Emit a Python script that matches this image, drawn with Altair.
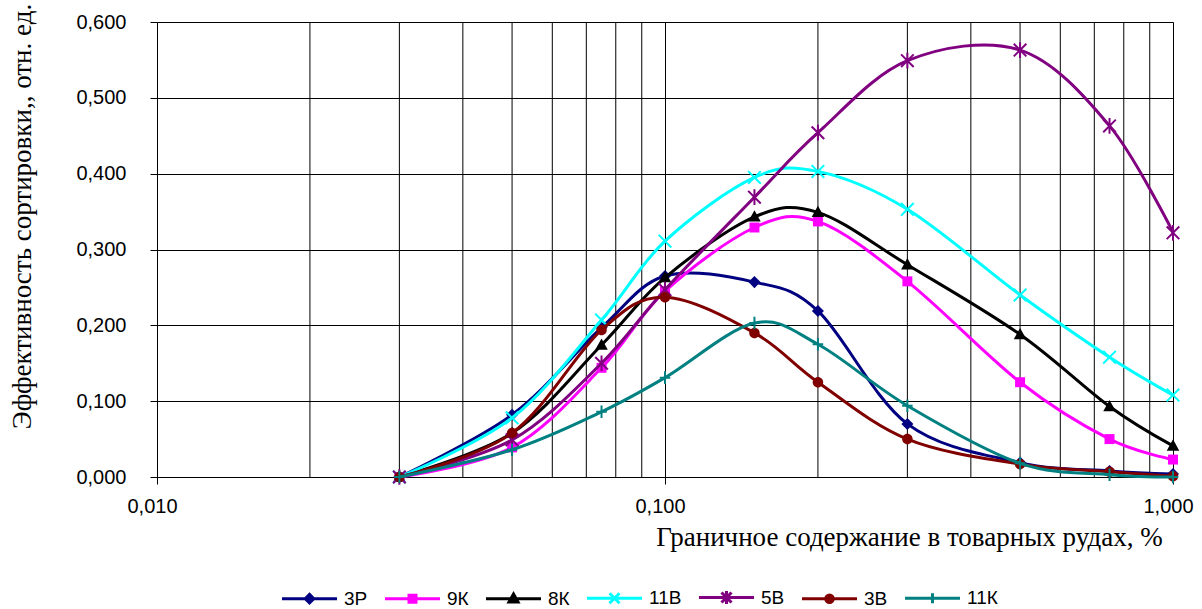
import altair as alt
import pandas as pd

# ---- data ----
x_values = [0.03, 0.05, 0.075, 0.1, 0.15, 0.2, 0.3, 0.5, 0.75, 1.0]
series_names = ["3Р", "9К", "8К", "11В", "5В", "3В", "11К"]
s_3R = [0.0, 0.082, 0.197, 0.265, 0.257, 0.219, 0.070, 0.019, 0.008, 0.004]
s_9K = [0.0, 0.039, 0.144, 0.245, 0.329, 0.337, 0.258, 0.125, 0.050, 0.023]
s_8K = [0.0, 0.058, 0.174, 0.263, 0.343, 0.349, 0.280, 0.188, 0.093, 0.041]
s_11V = [0.0, 0.078, 0.207, 0.311, 0.395, 0.403, 0.353, 0.240, 0.158, 0.108]
s_5V = [0.0, 0.049, 0.150, 0.247, 0.369, 0.454, 0.549, 0.563, 0.463, 0.322]
s_3V = [0.0, 0.058, 0.194, 0.237, 0.190, 0.125, 0.050, 0.017, 0.007, 0.001]
s_11K = [0.0, 0.036, 0.086, 0.131, 0.203, 0.175, 0.094, 0.018, 0.003, 0.000]
series_values = [s_3R, s_9K, s_8K, s_11V, s_5V, s_3V, s_11K]

x_ticks = [0.01, 0.1, 1.0]
x_minor_grid = [0.02, 0.03, 0.04, 0.05, 0.06, 0.07, 0.08, 0.09,
                0.2, 0.3, 0.4, 0.5, 0.6, 0.7, 0.8, 0.9]
y_ticks = [0.0, 0.1, 0.2, 0.3, 0.4, 0.5, 0.6]

colors = ["#000080", "#FF00FF", "#000000", "#00FFFF", "#800080", "#800000", "#008080"]

# marker shapes (unit square paths)
DIAMOND = "M0,-1.15L1.15,0L0,1.15L-1.15,0Z"
SQUARE = "M-0.95,-0.95H0.95V0.95H-0.95Z"
TRIANGLE = "M0,-1.25L1.2,0.9H-1.2Z"
CIRCLE = "M-1,0A1,1 0 1,0 1,0A1,1 0 1,0 -1,0Z"
XMARK = "M-1.2,-1.2L1.2,1.2M-1.2,1.2L1.2,-1.2"
STAR = "M-1.2,-1.2L1.2,1.2M-1.2,1.2L1.2,-1.2M0,-1.5V1.5"
PLUS = "M-1,0H1M0,-1.2V1.2"
marker_paths = [DIAMOND, SQUARE, TRIANGLE, XMARK, STAR, CIRCLE, PLUS]
marker_filled = [True, True, True, False, False, True, False]

# smaller markers for the legend (drawn with a stroke there)
L_DIAMOND = "M0,-0.85L0.85,0L0,0.85L-0.85,0Z"
L_SQUARE = "M-0.7,-0.7H0.7V0.7H-0.7Z"
L_TRIANGLE = "M0,-0.95L0.9,0.65H-0.9Z"
L_CIRCLE = "M-0.75,0A0.75,0.75 0 1,0 0.75,0A0.75,0.75 0 1,0 -0.75,0Z"
L_XMARK = "M-1,-1L1,1M-1,1L1,-1"
L_STAR = "M-1,-1L1,1M-1,1L1,-1M0,-1.3V1.3"
L_PLUS = "M0,-1V1"
LINE = "M-5.5,0H5.5"
legend_paths = [LINE + p for p in
                [L_DIAMOND, L_SQUARE, L_TRIANGLE, L_XMARK, L_STAR, L_CIRCLE, L_PLUS]]

rows = []
for name, vals in zip(series_names, series_values):
    for i, (xv, yv) in enumerate(zip(x_values, vals)):
        rows.append({"series": name, "x": xv, "y": yv, "idx": i})
df = pd.DataFrame(rows)
grid_df = pd.DataFrame({"x": x_minor_grid})
legend_df = pd.DataFrame({"lg": series_names})

label_expr = "replace(format(datum.value, '.3f'), '.', ',')"

x_scale = alt.Scale(type="log", domain=[0.01, 1.0], nice=False)
y_scale = alt.Scale(domain=[0, 0.6], nice=False, zero=False)

x_axis = alt.Axis(
    values=x_ticks, labelExpr=label_expr, grid=True, gridColor="#000000",
    gridWidth=1, gridOpacity=1, tickColor="#000000", tickSize=7, tickWidth=1,
    domainColor="#000000", domainWidth=1, labelFont="Liberation Sans",
    labelFontSize=20, labelColor="#000000", labelPadding=12, labelFlush=False,
    labelOverlap=False, labelOffset=-5,
    title="Граничное содержание в товарных рудах, %",
    titleFont="Liberation Serif", titleFontSize=27, titleFontWeight="normal",
    titleColor="#000000", titleX=752, titleY=68, titleAlign="center",
    titleBaseline="alphabetic",
)
y_axis = alt.Axis(
    values=y_ticks, labelExpr=label_expr, grid=True, gridColor="#000000",
    gridWidth=1, gridOpacity=1, tickColor="#000000", tickSize=7, tickWidth=1,
    domainColor="#000000", domainWidth=1, labelFont="Liberation Sans",
    labelFontSize=20, labelColor="#000000", labelPadding=24,
    labelOverlap=False,
    title="Эффективность сортировки,, отн. ед.",
    titleFont="Liberation Serif", titleFontSize=27, titleFontWeight="normal",
    titleColor="#000000", titleX=-135, titleY=194, titleAlign="center",
    titleBaseline="middle", titleAngle=270,
)

grid = alt.Chart(grid_df).mark_rule(color="#000000", strokeWidth=1).encode(
    x=alt.X("x:Q", scale=x_scale, axis=x_axis)
)

layers = [grid]
for name, col, path, filled in zip(series_names, colors, marker_paths, marker_filled):
    sub = df[df["series"] == name]
    base = alt.Chart(sub)
    ln = base.mark_line(
        interpolate="cardinal", tension=0, strokeWidth=3, color=col
    ).encode(
        x=alt.X("x:Q", scale=x_scale, axis=x_axis),
        y=alt.Y("y:Q", scale=y_scale, axis=y_axis),
        order="idx:Q",
    )
    if filled:
        pt = base.mark_point(filled=True, size=110, opacity=1, shape=path,
                             color=col, strokeWidth=0)
    else:
        pt = base.mark_point(filled=False, size=110, opacity=1, shape=path,
                             color=col, strokeWidth=2)
    pt = pt.encode(
        x=alt.X("x:Q", scale=x_scale, axis=x_axis),
        y=alt.Y("y:Q", scale=y_scale, axis=y_axis),
    )
    layers += [ln, pt]

legend_def = alt.Legend(
    orient="none", legendX=143, legendY=566, direction="horizontal",
    title=None, symbolSize=100, symbolStrokeWidth=3, labelFont="Liberation Sans",
    labelFontSize=19, labelColor="#000000", labelOffset=25, columnPadding=11,
    padding=0, symbolOpacity=1,
)
legend_layer = alt.Chart(legend_df).transform_filter("false").mark_point(
    filled=True, strokeWidth=3, opacity=1
).encode(
    fill=alt.Fill("lg:N", scale=alt.Scale(domain=series_names, range=colors), legend=legend_def),
    stroke=alt.Stroke("lg:N", scale=alt.Scale(domain=series_names, range=colors), legend=legend_def),
    shape=alt.Shape("lg:N", scale=alt.Scale(domain=series_names, range=legend_paths), legend=legend_def),
)
layers.append(legend_layer)

chart = alt.layer(*layers).properties(
    width=1016, height=455,
    autosize=alt.AutoSizeParams(type="none"),
    padding={"left": 157, "top": 22, "right": 29, "bottom": 132},
).configure_view(strokeWidth=0).configure(background="white")

chart.save("out.html", embed_options={"renderer": "svg", "actions": False})
